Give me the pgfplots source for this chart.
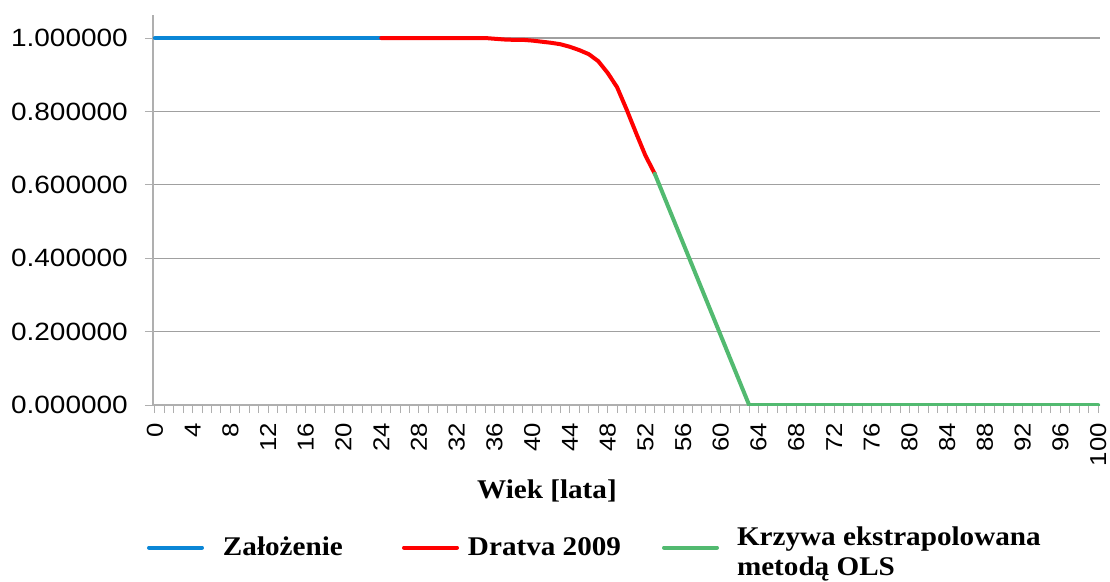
\documentclass[border=0pt]{standalone}
\usepackage{pgfplots}
\pgfplotsset{compat=1.18}
\usepackage{fontspec}
\setmainfont{Liberation Sans}
\newfontfamily\tickfont{Liberation Sans}[FakeStretch=1.12]
\newfontfamily\labfont{Liberation Serif}[FakeStretch=1.08]
\definecolor{cblue}{RGB}{10,134,214}
\definecolor{cred}{RGB}{255,0,0}
\definecolor{cgreen}{RGB}{82,186,112}
\definecolor{cgrid}{RGB}{160,160,160}
\definecolor{ctick}{RGB}{175,175,175}

\pgfplotstableread{
age val
0 1.0
24 1.0
}\zalozenie

\pgfplotstableread{
age val
24 1.000
28 1.000
32 1.000
35 1.000
36 0.998
37 0.996
38 0.995
39 0.995
40 0.993
41 0.990
42 0.987
43 0.983
44 0.976
45 0.967
46 0.956
47 0.937
48 0.905
49 0.866
50 0.806
51 0.742
52 0.680
53 0.630
}\dratva

\pgfplotstableread{
age val
53 0.630
54 0.567
55 0.504
56 0.441
57 0.378
58 0.315
59 0.252
60 0.189
61 0.126
62 0.063
63 0.000
70 0.000
80 0.000
90 0.000
100 0.000
}\ols

\begin{document}
\begin{tikzpicture}
\path[use as bounding box] (-153pt,-176pt) rectangle (957pt,405pt);
\begin{axis}[
  scale only axis, width=947pt, height=390pt,
  xmin=-0.2, xmax=100.2, ymin=0, ymax=1.0627,
  axis x line*=bottom, axis y line*=left,
  axis line style={ctick, line width=1.2pt},
  xtick={0,4,...,100}, minor x tick num=3,
  ytick={0,0.2,0.4,0.6,0.8,1},
  tick align=outside, major tick length=8pt, minor tick length=8pt,
  tick style={ctick, line width=1pt},
  ymajorgrids, grid style={cgrid, line width=1.2pt},
  /pgf/number format/assume math mode=true,
  xticklabel shift=10pt, yticklabel shift=17pt,
  xticklabel style={rotate=90, anchor=east, inner sep=0pt, font=\tickfont\fontsize{23}{23}\selectfont},
  yticklabel style={anchor=east, inner sep=0pt, font=\tickfont\fontsize{25}{25}\selectfont,
    /pgf/number format/.cd, fixed, fixed zerofill, precision=6, assume math mode=true},
  xlabel={Wiek [lata]},
  xlabel style={at={(axis description cs:0.416,0)}, anchor=base, yshift=-93pt, inner sep=0pt,
    font=\labfont\bfseries\fontsize{27}{30}\selectfont},
  legend columns=3,
  legend style={draw=none, fill=none, at={(axis description cs:0,0)}, anchor=north west,
    xshift=-6pt, yshift=-117.6pt, inner sep=0pt, outer sep=0pt, column sep=0pt,
    font=\labfont\bfseries\fontsize{27}{30}\selectfont,
    cells={anchor=base west, inner sep=0pt}},
  legend image code/.code={\draw[#1] (0pt,8pt) -- (53pt,8pt);},
]
\addplot[cblue, line width=4pt, line cap=round, line join=round] table[x=age, y=val] {\zalozenie};
\addlegendentry{\hspace*{17pt}\makebox[177pt][l]{Założenie}}
\addplot[cred, line width=4pt, line cap=round, line join=round] table[x=age, y=val] {\dratva};
\addlegendentry{\hspace*{7pt}\makebox[192pt][l]{Dratva 2009}}
\addplot[cgreen, line width=4pt, line cap=round, line join=round] table[x=age, y=val] {\ols};
\addlegendentry{\hspace*{16pt}\raisebox{10pt}{\begin{tabular}[t]{@{}l@{}}Krzywa ekstrapolowana\\metodą OLS\end{tabular}}}
\end{axis}
\end{tikzpicture}
\end{document}
